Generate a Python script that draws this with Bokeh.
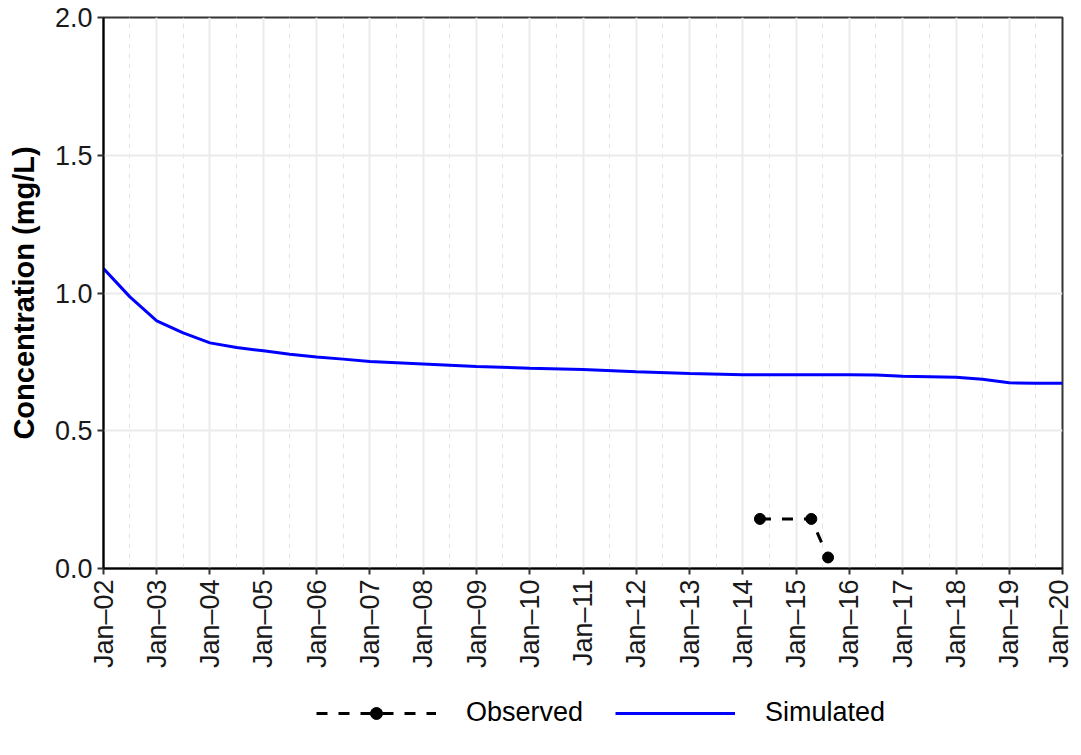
import math
from datetime import datetime
import pandas as pd
from bokeh.plotting import figure
from bokeh.layouts import column
from bokeh.models import (Range1d, FixedTicker, DatetimeTickFormatter, NumeralTickFormatter,
                          Legend, LegendItem)
from bokeh.embed import file_html
from bokeh.resources import INLINE

# ---------------- data ----------------
sim_dates = ["2002-01-01", "2002-07-01", "2003-01-01", "2003-07-01", "2004-01-01", "2004-07-01",
             "2005-01-01", "2005-07-01", "2006-01-01", "2006-07-01", "2007-01-01", "2008-01-01",
             "2009-01-01", "2010-01-01", "2011-01-01", "2012-01-01", "2013-01-01", "2014-01-01",
             "2015-01-01", "2016-01-01", "2016-07-01", "2017-01-01", "2018-01-01", "2018-07-01",
             "2019-01-01", "2019-07-01", "2020-01-01"]
sim_values = [1.089, 0.986, 0.899, 0.855, 0.819, 0.802,
              0.790, 0.778, 0.768, 0.760, 0.751, 0.742,
              0.733, 0.727, 0.722, 0.714, 0.708, 0.703,
              0.703, 0.703, 0.702, 0.698, 0.694, 0.687,
              0.674, 0.672, 0.672]

obs_dates = ["2014-04-28", "2015-04-15", "2015-08-08"]
obs_values = [0.18, 0.18, 0.04]

year_ticks = [f"{y}-01-01" for y in range(2002, 2021)]
half_year_ticks = [f"{y}-07-01" for y in range(2002, 2020)]
y_ticks = [0.0, 0.5, 1.0, 1.5, 2.0]
legend_labels = ["Observed", "Simulated"]

FONT = "Liberation Sans"
SIM_COLOR = "#0000FF"
OBS_COLOR = "black"
OBS_DASH = "11 11"

def ms(s):
    return pd.Timestamp(s).value / 1e6

sim_x = pd.to_datetime(sim_dates)
obs_x = pd.to_datetime(obs_dates)

def add_series(fig):
    ol = fig.line(obs_x, obs_values, line_color=OBS_COLOR, line_width=3, line_dash=OBS_DASH)
    op = fig.scatter(obs_x, obs_values, size=11, color=OBS_COLOR)
    sl = fig.line(sim_x, sim_values, line_color=SIM_COLOR, line_width=3)
    return ol, op, sl

x_range = Range1d(datetime(2002, 1, 1), datetime(2020, 1, 1))

p = figure(width=1073, height=678, x_axis_type="datetime",
           output_backend="svg", toolbar_location=None,
           x_range=x_range, y_range=Range1d(0, 2),
           min_border_left=103, min_border_top=17, min_border_right=11, min_border_bottom=110)

p.background_fill_color = "white"
p.border_fill_color = "white"
p.outline_line_color = "#333333"
p.outline_line_width = 2

# grid
p.xgrid.ticker = FixedTicker(ticks=[ms(t) for t in year_ticks],
                             minor_ticks=[ms(t) for t in half_year_ticks])
p.xgrid.grid_line_color = "#EBEBEB"
p.xgrid.grid_line_width = 2
p.xgrid.minor_grid_line_color = "#E3E3E3"
p.xgrid.minor_grid_line_width = 1
p.xgrid.minor_grid_line_dash = "5 5"
p.ygrid.ticker = FixedTicker(ticks=y_ticks)
p.ygrid.grid_line_color = "#EBEBEB"
p.ygrid.grid_line_width = 2

# axes
p.xaxis.ticker = FixedTicker(ticks=[ms(t) for t in year_ticks],
                             minor_ticks=[ms(t) for t in half_year_ticks])
fmt = "%b–%y"
p.xaxis.formatter = DatetimeTickFormatter(microseconds=fmt, milliseconds=fmt, seconds=fmt,
                                          minsec=fmt, minutes=fmt, hourmin=fmt, hours=fmt,
                                          days=fmt, months=fmt, years=fmt)
p.xaxis.major_label_orientation = math.pi / 2
p.yaxis.ticker = FixedTicker(ticks=y_ticks)
p.yaxis.formatter = NumeralTickFormatter(format="0.0")
p.yaxis.axis_label = "Concentration (mg/L)"

for ax in (p.xaxis, p.yaxis):
    ax.axis_line_color = "black"
    ax.axis_line_width = 2
    ax.major_tick_line_color = "#333333"
    ax.major_tick_line_width = 2
    ax.major_tick_out = 6
    ax.major_tick_in = 0
    ax.minor_tick_line_color = None
    ax.major_label_text_font = FONT
    ax.major_label_text_font_size = "27px"
    ax.major_label_text_color = "#1a1a1a"
    ax.major_label_standoff = 5

p.yaxis.axis_label_text_font = FONT
p.yaxis.axis_label_text_font_size = "29px"
p.yaxis.axis_label_text_font_style = "bold"
p.yaxis.axis_label_text_color = "black"
p.yaxis.axis_label_standoff = 12

add_series(p)

# legend strip below the plot: same series, drawn outside its visible y window
lf = figure(width=1073, height=70, x_axis_type="datetime",
            output_backend="svg", toolbar_location=None,
            x_range=x_range, y_range=Range1d(10, 11),
            min_border_left=103, min_border_right=11, min_border_top=0, min_border_bottom=0)
lf.axis.visible = False
lf.grid.visible = False
lf.outline_line_color = None
lf.background_fill_color = "white"
lf.border_fill_color = "white"
l_obs_line, l_obs_pts, l_sim_line = add_series(lf)

legend = Legend(items=[LegendItem(label=legend_labels[0], renderers=[l_obs_line, l_obs_pts]),
                       LegendItem(label=legend_labels[1], renderers=[l_sim_line])],
                orientation="horizontal", location=(213, 20))
legend.glyph_width = 120
legend.glyph_height = 30
legend.label_standoff = 30
legend.spacing = 32
legend.label_text_font = FONT
legend.label_text_font_size = "27px"
legend.label_text_color = "black"
legend.border_line_color = None
legend.background_fill_alpha = 0
legend.padding = 0
legend.margin = 0
lf.add_layout(legend, "center")

layout = column(p, lf, spacing=0)
open("out.html", "w").write(file_html(layout, INLINE))
